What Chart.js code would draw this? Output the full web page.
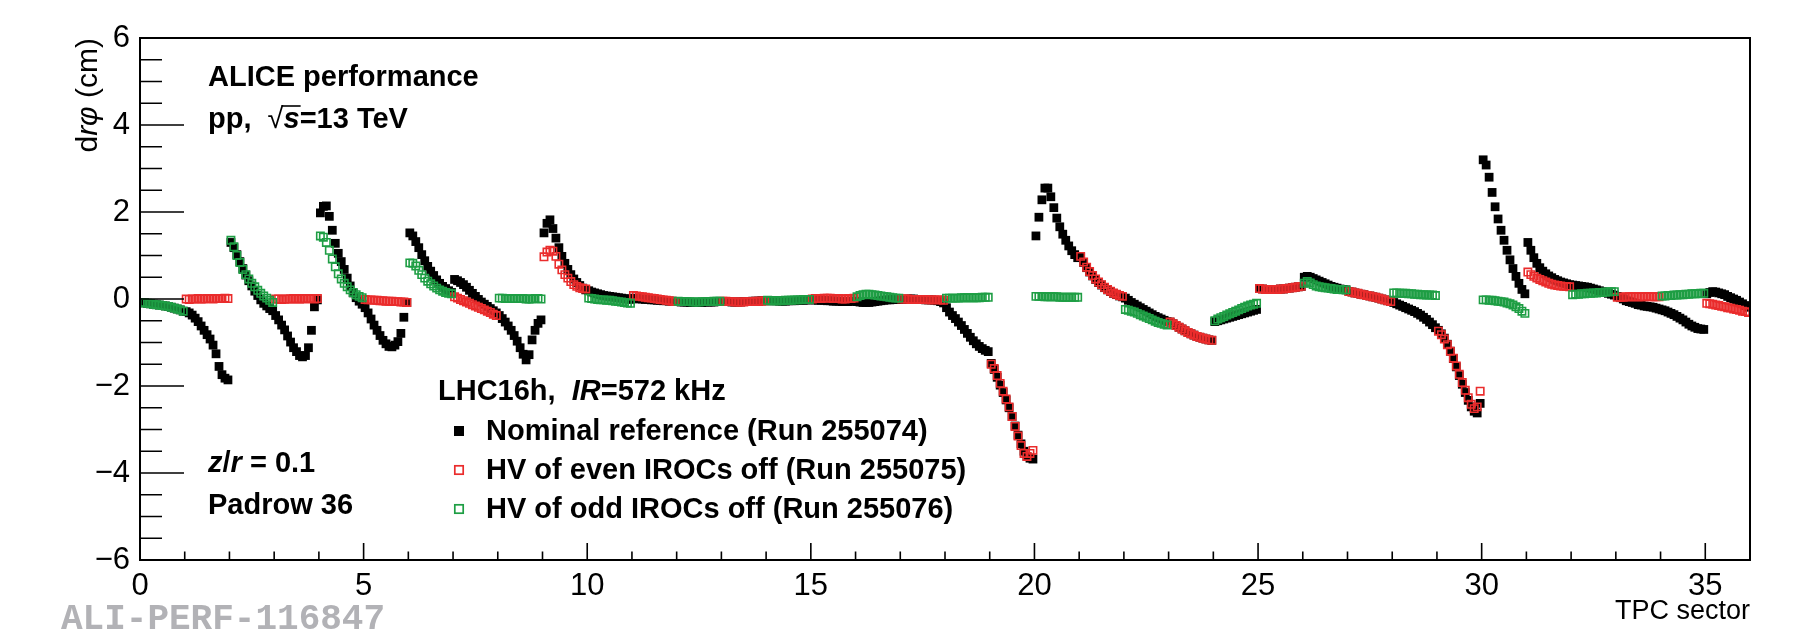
<!DOCTYPE html>
<html>
<head>
<meta charset="utf-8">
<script src="https://cdn.jsdelivr.net/npm/chart.js@4.4.0/dist/chart.umd.min.js"></script>
<style>
  html, body { margin: 0; padding: 0; background: #fff; }
  canvas { display: block; }
</style>
</head>
<body>
<canvas id="chart" width="1796" height="630"></canvas>
<script>
// local phi bins per TPC sector
const binsPerSector = 15;

// Nominal reference (Run 255074), one row per sector 0..35
const nominalRun = [
  [-0.08, -0.09, -0.10, -0.11, -0.12, -0.13, -0.14, -0.15, -0.16, -0.17, -0.19, -0.21, -0.23, -0.25, -0.28],
  [-0.29, -0.32, -0.37, -0.44, -0.52, -0.62, -0.72, -0.82, -0.92, -1.06, -1.26, -1.55, -1.74, -1.82, -1.86],
  [1.30, 1.18, 1.02, 0.86, 0.70, 0.55, 0.42, 0.30, 0.18, 0.08, -0.02, -0.10, -0.16, -0.22, -0.27],
  [-0.38, -0.48, -0.60, -0.71, -0.85, -0.99, -1.12, -1.21, -1.30, -1.33, -1.30, -1.12, -0.72, -0.18, -0.02],
  [1.98, 2.13, 2.14, 1.90, 1.58, 1.28, 1.05, 0.86, 0.68, 0.48, 0.30, 0.14, 0.03, -0.05, -0.12],
  [-0.20, -0.32, -0.46, -0.60, -0.72, -0.84, -0.95, -1.03, -1.09, -1.10, -1.06, -0.98, -0.79, -0.42, -0.08],
  [1.52, 1.45, 1.32, 1.18, 1.02, 0.88, 0.75, 0.64, 0.54, 0.44, 0.36, 0.29, 0.24, 0.19, 0.15],
  [0.45, 0.42, 0.38, 0.33, 0.27, 0.20, 0.13, 0.06, -0.01, -0.07, -0.12, -0.17, -0.22, -0.27, -0.32],
  [-0.38, -0.45, -0.53, -0.62, -0.72, -0.84, -0.97, -1.12, -1.27, -1.40, -1.28, -0.94, -0.72, -0.56, -0.48],
  [1.52, 1.74, 1.82, 1.62, 1.40, 1.18, 0.98, 0.82, 0.68, 0.56, 0.46, 0.38, 0.31, 0.25, 0.21],
  [0.19, 0.16, 0.14, 0.12, 0.10, 0.08, 0.07, 0.06, 0.05, 0.04, 0.03, 0.02, 0.01, 0.00, -0.01],
  [0.02, 0.01, 0.00, 0.00, -0.01, -0.01, -0.02, -0.02, -0.03, -0.03, -0.04, -0.04, -0.05, -0.05, -0.06],
  [-0.06, -0.07, -0.07, -0.07, -0.08, -0.08, -0.08, -0.08, -0.08, -0.07, -0.07, -0.07, -0.07, -0.06, -0.06],
  [-0.06, -0.06, -0.06, -0.07, -0.07, -0.07, -0.07, -0.06, -0.06, -0.06, -0.05, -0.05, -0.05, -0.04, -0.04],
  [-0.04, -0.04, -0.04, -0.04, -0.05, -0.05, -0.05, -0.04, -0.04, -0.04, -0.03, -0.03, -0.03, -0.02, -0.02],
  [-0.02, -0.02, -0.03, -0.03, -0.03, -0.04, -0.04, -0.05, -0.05, -0.05, -0.06, -0.06, -0.06, -0.05, -0.05],
  [-0.06, -0.07, -0.08, -0.08, -0.08, -0.07, -0.06, -0.05, -0.04, -0.03, -0.02, -0.02, -0.01, -0.01, -0.01],
  [-0.01, -0.01, 0.00, 0.00, 0.00, -0.01, -0.01, -0.01, -0.02, -0.02, -0.02, -0.03, -0.04, -0.06, -0.09],
  [-0.20, -0.30, -0.38, -0.45, -0.53, -0.61, -0.70, -0.79, -0.88, -0.96, -1.03, -1.09, -1.14, -1.18, -1.21],
  [-1.48, -1.62, -1.80, -1.98, -2.15, -2.32, -2.50, -2.70, -2.92, -3.13, -3.33, -3.50, -3.62, -3.66, -3.68],
  [1.45, 1.88, 2.28, 2.55, 2.55, 2.35, 2.10, 1.86, 1.66, 1.49, 1.35, 1.22, 1.11, 1.02, 0.95],
  [0.97, 0.84, 0.72, 0.62, 0.53, 0.45, 0.38, 0.32, 0.26, 0.21, 0.17, 0.13, 0.10, 0.07, 0.05],
  [0.02, -0.03, -0.08, -0.12, -0.16, -0.20, -0.24, -0.28, -0.32, -0.36, -0.40, -0.43, -0.46, -0.49, -0.52],
  [-0.53, -0.57, -0.61, -0.65, -0.69, -0.73, -0.77, -0.80, -0.83, -0.86, -0.88, -0.90, -0.92, -0.94, -0.95],
  [-0.52, -0.50, -0.48, -0.46, -0.44, -0.42, -0.40, -0.38, -0.36, -0.34, -0.32, -0.30, -0.28, -0.26, -0.24],
  [0.24, 0.23, 0.22, 0.22, 0.22, 0.22, 0.22, 0.23, 0.23, 0.24, 0.25, 0.26, 0.27, 0.28, 0.29],
  [0.50, 0.52, 0.50, 0.47, 0.44, 0.41, 0.38, 0.35, 0.32, 0.29, 0.27, 0.25, 0.23, 0.22, 0.21],
  [0.17, 0.16, 0.14, 0.13, 0.11, 0.10, 0.08, 0.07, 0.05, 0.04, 0.02, 0.00, -0.02, -0.04, -0.06],
  [-0.08, -0.11, -0.14, -0.17, -0.20, -0.23, -0.26, -0.29, -0.33, -0.37, -0.42, -0.47, -0.53, -0.59, -0.66],
  [-0.72, -0.80, -0.90, -1.04, -1.20, -1.37, -1.56, -1.76, -1.96, -2.15, -2.33, -2.48, -2.58, -2.62, -2.40],
  [3.20, 3.08, 2.80, 2.45, 2.12, 1.84, 1.58, 1.35, 1.12, 0.90, 0.70, 0.52, 0.36, 0.22, 0.12],
  [1.30, 1.12, 0.95, 0.82, 0.72, 0.64, 0.58, 0.53, 0.49, 0.45, 0.42, 0.39, 0.37, 0.35, 0.33],
  [0.32, 0.31, 0.30, 0.29, 0.28, 0.27, 0.25, 0.23, 0.21, 0.19, 0.17, 0.15, 0.13, 0.11, 0.09],
  [0.06, 0.03, 0.00, -0.04, -0.06, -0.08, -0.10, -0.13, -0.14, -0.16, -0.17, -0.18, -0.19, -0.21, -0.23],
  [-0.25, -0.27, -0.30, -0.33, -0.36, -0.40, -0.44, -0.48, -0.53, -0.58, -0.62, -0.65, -0.68, -0.69, -0.70],
  [0.12, 0.15, 0.17, 0.16, 0.14, 0.12, 0.10, 0.06, 0.03, 0.00, -0.03, -0.07, -0.11, -0.15, -0.19]
];

// HV of even IROCs off (Run 255075)
const evenOffSectors = [1, 3, 5, 7, 9, 11, 13, 15, 17, 19, 21, 23, 25, 27, 29, 31, 33, 35];
const evenOffRun = [
  [0.00, -0.01, 0.00, 0.00, 0.01, 0.00, 0.00, 0.01, 0.01, 0.00, 0.01, 0.01, 0.01, 0.02, 0.01],
  [0.00, 0.00, -0.01, 0.00, 0.00, 0.00, 0.01, 0.00, 0.00, 0.01, 0.00, 0.01, 0.01, 0.00, 0.01],
  [-0.01, -0.02, -0.02, -0.03, -0.03, -0.04, -0.04, -0.05, -0.05, -0.05, -0.06, -0.06, -0.07, -0.07, -0.08],
  [0.05, 0.02, -0.01, -0.04, -0.07, -0.10, -0.13, -0.16, -0.19, -0.22, -0.25, -0.28, -0.31, -0.35, -0.38],
  [0.97, 1.08, 1.12, 1.10, 0.98, 0.80, 0.67, 0.56, 0.48, 0.40, 0.33, 0.29, 0.26, 0.24, 0.23],
  [0.08, 0.07, 0.06, 0.05, 0.04, 0.03, 0.02, 0.01, 0.00, -0.01, -0.02, -0.03, -0.04, -0.05, -0.06],
  [-0.05, -0.05, -0.06, -0.06, -0.07, -0.07, -0.07, -0.07, -0.06, -0.06, -0.06, -0.05, -0.05, -0.05, -0.04],
  [0.00, 0.01, 0.01, 0.01, 0.02, 0.02, 0.02, 0.01, 0.01, 0.01, 0.00, 0.00, 0.01, 0.01, 0.02],
  [0.00, 0.00, 0.00, -0.01, -0.01, -0.01, -0.01, -0.01, -0.01, -0.02, -0.02, -0.02, -0.02, -0.02, -0.03],
  [-1.50, -1.60, -1.76, -1.94, -2.12, -2.30, -2.48, -2.70, -2.93, -3.15, -3.37, -3.55, -3.62, -3.55, -3.48],
  [0.98, 0.85, 0.73, 0.63, 0.54, 0.46, 0.39, 0.33, 0.27, 0.22, 0.18, 0.14, 0.11, 0.08, 0.06],
  [-0.53, -0.57, -0.61, -0.65, -0.69, -0.73, -0.77, -0.80, -0.83, -0.86, -0.88, -0.90, -0.92, -0.94, -0.95],
  [0.24, 0.23, 0.22, 0.22, 0.22, 0.22, 0.22, 0.23, 0.23, 0.24, 0.25, 0.26, 0.27, 0.28, 0.29],
  [0.17, 0.16, 0.14, 0.13, 0.11, 0.10, 0.08, 0.07, 0.05, 0.04, 0.02, 0.00, -0.02, -0.04, -0.06],
  [-0.74, -0.82, -0.92, -1.05, -1.20, -1.36, -1.54, -1.73, -1.92, -2.10, -2.27, -2.42, -2.52, -2.48, -2.12],
  [0.62, 0.56, 0.52, 0.48, 0.45, 0.42, 0.39, 0.36, 0.34, 0.32, 0.31, 0.30, 0.29, 0.29, 0.28],
  [0.04, 0.04, 0.04, 0.05, 0.05, 0.05, 0.05, 0.05, 0.05, 0.05, 0.06, 0.05, 0.05, 0.05, 0.05],
  [-0.10, -0.11, -0.12, -0.14, -0.15, -0.17, -0.18, -0.20, -0.21, -0.23, -0.24, -0.26, -0.28, -0.29, -0.31]
];

// HV of odd IROCs off (Run 255076)
const oddOffSectors = [0, 2, 4, 6, 8, 10, 12, 14, 16, 18, 20, 22, 24, 26, 28, 30, 32, 34];
const oddOffRun = [
  [-0.08, -0.09, -0.10, -0.11, -0.12, -0.13, -0.14, -0.15, -0.16, -0.17, -0.19, -0.21, -0.23, -0.25, -0.28],
  [1.35, 1.20, 1.00, 0.84, 0.68, 0.56, 0.46, 0.36, 0.28, 0.20, 0.13, 0.07, 0.02, -0.03, -0.08],
  [1.45, 1.42, 1.30, 1.12, 0.92, 0.74, 0.58, 0.46, 0.36, 0.28, 0.21, 0.15, 0.10, 0.06, 0.03],
  [0.83, 0.82, 0.76, 0.66, 0.56, 0.48, 0.41, 0.35, 0.30, 0.25, 0.21, 0.18, 0.15, 0.13, 0.12],
  [0.02, 0.02, 0.01, 0.01, 0.01, 0.01, 0.01, 0.01, 0.01, 0.00, 0.00, 0.00, 0.01, 0.01, 0.00],
  [0.02, 0.01, 0.00, -0.01, -0.02, -0.02, -0.03, -0.03, -0.04, -0.05, -0.06, -0.07, -0.08, -0.09, -0.10],
  [-0.05, -0.06, -0.06, -0.06, -0.06, -0.07, -0.07, -0.07, -0.06, -0.06, -0.06, -0.06, -0.05, -0.05, -0.05],
  [-0.03, -0.04, -0.04, -0.04, -0.04, -0.04, -0.03, -0.03, -0.03, -0.02, -0.02, -0.02, -0.01, -0.01, -0.01],
  [0.05, 0.08, 0.10, 0.11, 0.11, 0.10, 0.09, 0.08, 0.07, 0.06, 0.05, 0.04, 0.03, 0.02, 0.02],
  [0.02, 0.02, 0.02, 0.02, 0.02, 0.03, 0.03, 0.03, 0.03, 0.03, 0.03, 0.03, 0.04, 0.04, 0.04],
  [0.06, 0.06, 0.06, 0.05, 0.05, 0.05, 0.05, 0.05, 0.04, 0.04, 0.04, 0.04, 0.04, 0.04, 0.04],
  [-0.24, -0.26, -0.28, -0.30, -0.33, -0.36, -0.39, -0.42, -0.45, -0.48, -0.51, -0.54, -0.56, -0.58, -0.60],
  [-0.50, -0.46, -0.43, -0.40, -0.37, -0.34, -0.31, -0.28, -0.25, -0.22, -0.19, -0.16, -0.14, -0.12, -0.10],
  [0.36, 0.40, 0.37, 0.33, 0.30, 0.28, 0.27, 0.26, 0.25, 0.24, 0.23, 0.22, 0.22, 0.21, 0.21],
  [0.14, 0.14, 0.13, 0.13, 0.13, 0.12, 0.12, 0.11, 0.11, 0.10, 0.10, 0.09, 0.09, 0.09, 0.08],
  [-0.02, -0.02, -0.03, -0.03, -0.04, -0.05, -0.06, -0.07, -0.09, -0.11, -0.14, -0.18, -0.22, -0.28, -0.33],
  [0.10, 0.11, 0.11, 0.12, 0.12, 0.13, 0.13, 0.14, 0.14, 0.15, 0.15, 0.16, 0.16, 0.17, 0.17],
  [0.07, 0.07, 0.08, 0.08, 0.09, 0.09, 0.10, 0.10, 0.11, 0.11, 0.12, 0.12, 0.12, 0.13, 0.13]
];

const xTicks = [0, 5, 10, 15, 20, 25, 30, 35];
const yTicks = [-6, -4, -2, 0, 2, 4, 6];

const RED = 'rgb(234, 44, 44)';
const GREEN = 'rgb(30, 158, 68)';
const SANS = '"Liberation Sans", Arial, sans-serif';

// turn sector rows into scatter points, bins centred inside each sector
function toPoints(sectors, rows) {
  const pts = [];
  rows.forEach((row, k) => {
    row.forEach((v, i) => {
      pts.push({ x: sectors[k] + (i + 0.5) / binsPerSector, y: v });
    });
  });
  return pts;
}

const allSectors = nominalRun.map((_, s) => s);

// write a line made of differently styled pieces
function drawRuns(ctx, x, y, runs) {
  let cx = x;
  const pos = [];
  for (const [text, font] of runs) {
    ctx.font = font;
    ctx.fillText(text, cx, y);
    const w = ctx.measureText(text).width;
    pos.push([cx, w]);
    cx += w;
  }
  return pos;
}

// ROOT like frame, inner ticks and text labels
const rootDecor = {
  id: 'rootDecor',
  afterDraw(chart) {
    const { ctx, chartArea: a, scales: { x, y } } = chart;
    ctx.save();
    ctx.strokeStyle = '#000';
    ctx.lineWidth = 2;
    ctx.strokeRect(a.left, a.top, a.right - a.left, a.bottom - a.top);

    ctx.lineWidth = 1.6;
    ctx.beginPath();
    for (let v = -6; v <= 6; v += 0.5) {
      const py = y.getPixelForValue(v);
      const len = v % 2 === 0 ? 44 : 22;
      ctx.moveTo(a.left, py);
      ctx.lineTo(a.left + len, py);
    }
    for (let v = 0; v <= 36; v++) {
      const px = x.getPixelForValue(v);
      const len = v % 5 === 0 ? 17 : 8.5;
      ctx.moveTo(px, a.bottom);
      ctx.lineTo(px, a.bottom - len);
    }
    ctx.stroke();

    const B = 'bold 29px ' + SANS;
    const BI = 'italic bold 29px ' + SANS;
    ctx.fillStyle = '#000';
    ctx.textBaseline = 'alphabetic';
    ctx.textAlign = 'left';

    drawRuns(ctx, 208, 86, [['ALICE performance', B]]);
    const pp = drawRuns(ctx, 208, 128, [['pp,  ', B], ['\u221A', '29px ' + SANS], ['s', BI], ['=13 TeV', B]]);
    // bar over s
    ctx.beginPath();
    ctx.lineWidth = 1.6;
    ctx.moveTo(pp[1][0] + pp[1][1] - 2, 106);
    ctx.lineTo(pp[2][0] + pp[2][1] + 1, 106);
    ctx.stroke();

    drawRuns(ctx, 208, 472, [['z', BI], ['/', B], ['r', BI], [' = 0.1', B]]);
    drawRuns(ctx, 208, 514, [['Padrow 36', B]]);

    drawRuns(ctx, 438, 400, [['LHC16h,  ', B], ['IR', BI], ['=572 kHz', B]]);

    // legend
    const rows = [
      ['Nominal reference (Run 255074)', 440],
      ['HV of even IROCs off (Run 255075)', 479],
      ['HV of odd IROCs off (Run 255076)', 518]
    ];
    chart.data.datasets.forEach((ds, k) => {
      const cy = rows[k][1] - 9;
      if (k === 0) {
        ctx.fillStyle = '#000';
        ctx.fillRect(459 - 5, cy - 5, 10, 10);
      } else {
        ctx.strokeStyle = ds.borderColor;
        ctx.lineWidth = 1.7;
        ctx.strokeRect(459 - 4.2, cy - 4.2, 8.4, 8.4);
      }
      ctx.fillStyle = '#000';
      drawRuns(ctx, 486, rows[k][1], [[rows[k][0], B]]);
    });

    // x axis title
    ctx.font = '27px ' + SANS;
    ctx.textAlign = 'right';
    ctx.fillText('TPC sector', a.right, 619);

    // y axis title, rotated, ending at the top of the frame
    ctx.textAlign = 'left';
    const R = '30px ' + SANS;
    const RI = 'italic 30px ' + SANS;
    const parts = [['d', R], ['r', RI], ['\u03C6', RI], [' (cm)', R]];
    let total = 0;
    parts.forEach(([t, f]) => { ctx.font = f; total += ctx.measureText(t).width; });
    ctx.save();
    ctx.translate(97, a.top + total);
    ctx.rotate(-Math.PI / 2);
    drawRuns(ctx, 0, 0, parts);
    ctx.restore();

    // figure id
    ctx.font = 'bold 36px "Liberation Mono", "Courier New", monospace';
    ctx.fillStyle = 'rgb(178, 178, 182)';
    ctx.fillText('ALI-PERF-116847', 61, 629);
    ctx.restore();
  }
};

new Chart(document.getElementById('chart'), {
  type: 'scatter',
  data: {
    datasets: [
      {
        label: 'Nominal reference (Run 255074)',
        data: toPoints(allSectors, nominalRun),
        pointStyle: 'rect',
        pointRadius: 6.2,
        backgroundColor: '#000',
        borderWidth: 0,
        order: 3
      },
      {
        label: 'HV of even IROCs off (Run 255075)',
        data: toPoints(evenOffSectors, evenOffRun),
        pointStyle: 'rect',
        pointRadius: 5.2,
        backgroundColor: 'rgba(0,0,0,0)',
        borderColor: RED,
        borderWidth: 1.6,
        order: 2
      },
      {
        label: 'HV of odd IROCs off (Run 255076)',
        data: toPoints(oddOffSectors, oddOffRun),
        pointStyle: 'rect',
        pointRadius: 5.2,
        backgroundColor: 'rgba(0,0,0,0)',
        borderColor: GREEN,
        borderWidth: 1.6,
        order: 1
      }
    ]
  },
  options: {
    responsive: false,
    animation: false,
    layout: { padding: { top: 38, right: 46, left: 0, bottom: 0 } },
    plugins: { legend: { display: false }, tooltip: { enabled: false } },
    scales: {
      x: {
        type: 'linear',
        min: 0,
        max: 36,
        afterFit: (s) => { s.height = 70; },
        afterBuildTicks: (s) => { s.ticks = xTicks.map(v => ({ value: v })); },
        grid: { display: false, drawTicks: false },
        border: { display: false },
        ticks: { padding: 8, color: '#000', maxRotation: 0, autoSkip: false, font: { family: SANS, size: 31 } }
      },
      y: {
        type: 'linear',
        min: -6,
        max: 6,
        afterFit: (s) => { s.width = 140; },
        afterBuildTicks: (s) => { s.ticks = yTicks.map(v => ({ value: v })); },
        grid: { display: false, drawTicks: false },
        border: { display: false },
        ticks: {
          padding: 10,
          color: '#000',
          autoSkip: false,
          font: { family: SANS, size: 31 },
          callback: (v) => (v < 0 ? '\u2212' + Math.abs(v) : String(v))
        }
      }
    }
  },
  plugins: [rootDecor]
});
</script>
</body>
</html>
